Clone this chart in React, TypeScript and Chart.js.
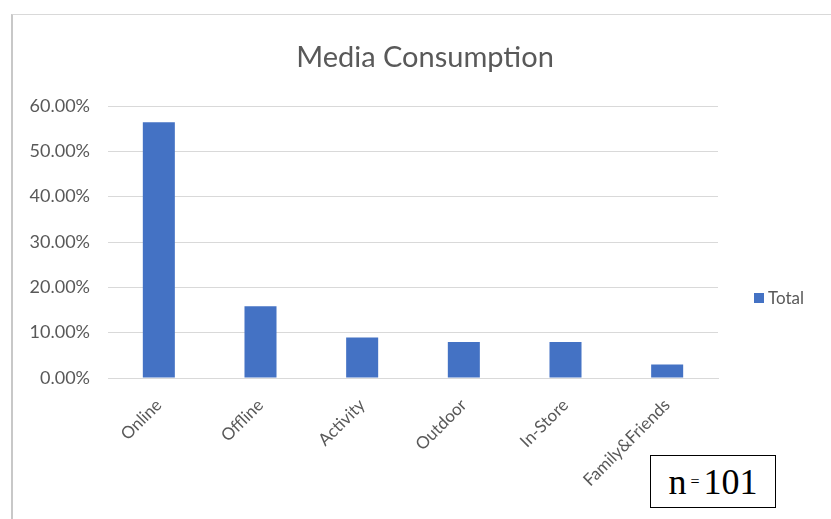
import React, { useEffect, useRef } from "react";
import { Chart, registerables } from "chart.js";

Chart.register(...registerables);

const categories = ["Online", "Offline", "Activity", "Outdoor", "In-Store", "Family&Friends"];
const totalValues = [0.5644, 0.1584, 0.0891, 0.0792, 0.0792, 0.0297];
const seriesLabel = "Total";
const chartTitle = "Media Consumption";
const sampleNote = { n: "n", eq: "=", value: "101" };

const FONT = "Lato, 'Open Sans', sans-serif";
const GREY = "#595959";
const BAR = "#4472c4";

const decorPlugin = {
  id: "decor",
  afterDraw(chart: any) {
    const ctx = chart.ctx;
    const ds = chart.data.datasets[0];
    ctx.save();
    // title
    ctx.fillStyle = GREY;
    ctx.font = `29px ${FONT}`;
    ctx.textAlign = "center";
    ctx.textBaseline = "middle";
    ctx.fillText(chartTitle, 425, 58);
    // legend
    const x = chart.chartArea.right + 36;
    const y = 298;
    ctx.fillStyle = ds.backgroundColor;
    ctx.fillRect(x, y - 5, 10, 10);
    ctx.fillStyle = GREY;
    ctx.font = `17px ${FONT}`;
    ctx.textAlign = "left";
    ctx.fillText(ds.label, x + 14, y + 1);
    ctx.restore();
  },
};

export default function App() {
  const ref = useRef<HTMLCanvasElement>(null);

  useEffect(() => {
    if (!ref.current) return;
    const chart = new Chart(ref.current, {
      type: "bar",
      data: {
        labels: categories,
        datasets: [
          {
            label: seriesLabel,
            data: totalValues,
            backgroundColor: BAR,
            barPercentage: 0.315,
            categoryPercentage: 1,
          },
        ],
      },
      options: {
        animation: false,
        responsive: true,
        maintainAspectRatio: false,
        layout: { padding: { left: 10, right: 113, top: 106, bottom: 0 } },
        plugins: {
          legend: { display: false },
          tooltip: { enabled: false },
          title: { display: false },
        },
        scales: {
          x: {
            grid: { display: false },
            border: { display: true, color: "#d9d9d9", width: 1 },
            ticks: {
              color: GREY,
              font: { family: FONT, size: 17 },
              minRotation: 45,
              maxRotation: 45,
              padding: 9,
            },
            afterFit(scale: any) {
              scale.height = 141;
            },
          },
          y: {
            min: 0,
            max: 0.6,
            grid: { color: "#d9d9d9", drawTicks: false },
            border: { display: false },
            ticks: {
              stepSize: 0.1,
              color: GREY,
              font: { family: FONT, size: 18 },
              padding: 18,
              callback: (v: any) => (Number(v) * 100).toFixed(2) + "%",
            },
            afterFit(scale: any) {
              scale.width = 98;
            },
          },
        },
      },
      plugins: [decorPlugin],
    });
    return () => chart.destroy();
  }, []);

  return (
    <div style={{ position: "fixed", left: 0, top: 0, width: 831, height: 519, background: "#fff", overflow: "hidden" }}>
      <div
        style={{
          position: "absolute",
          left: 11,
          top: 14,
          width: 900,
          height: 600,
          borderLeft: "2px solid #c8c8c8",
          borderTop: "1px solid #d9d9d9",
        }}
      />
      <div style={{ position: "absolute", left: 0, top: 0, width: 831, height: 519 }}>
        <canvas ref={ref} />
      </div>
      <div
        style={{
          position: "absolute",
          left: 650,
          top: 455,
          width: 124,
          height: 51,
          border: "1px solid #000",
          background: "#fff",
          fontFamily: "'Liberation Serif', serif",
          color: "#000",
          display: "flex",
          alignItems: "center",
          justifyContent: "center",
          lineHeight: 1,
        }}
      >
        <span style={{ fontSize: 36 }}>{sampleNote.n}</span>
        <span style={{ fontSize: 16, margin: "0 4px" }}>{sampleNote.eq}</span>
        <span style={{ fontSize: 36 }}>{sampleNote.value}</span>
      </div>
    </div>
  );
}
